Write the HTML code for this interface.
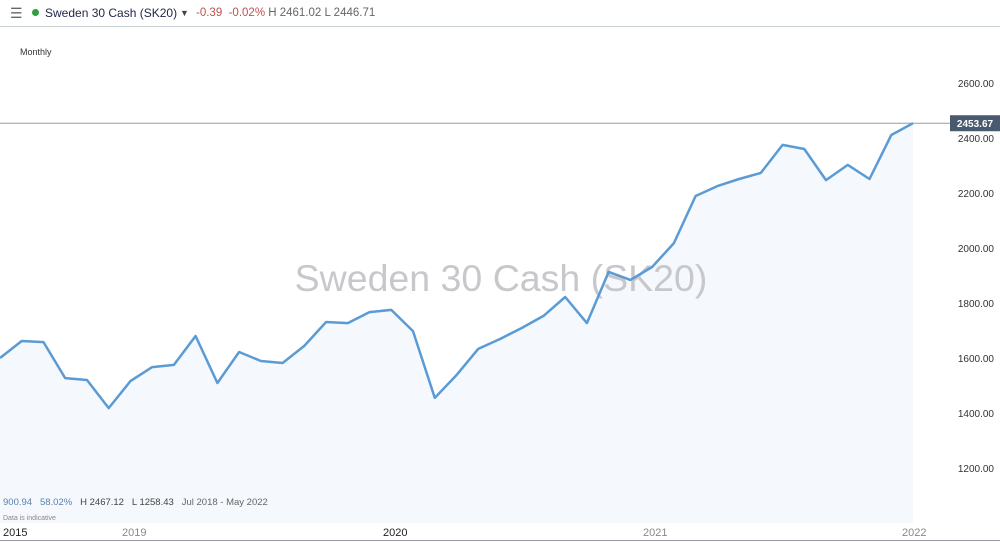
<!DOCTYPE html>
<html><head><meta charset="utf-8"><style>
body{margin:0;width:1000px;height:542px;overflow:hidden;background:#fff;font-family:"Liberation Sans",sans-serif;position:relative}
.top{position:absolute;left:0;top:0;width:1000px;height:26px;border-bottom:1px solid #c9d3d3;font-size:11px;line-height:26px}
</style></head><body>
<div class="top">
<span style="position:absolute;left:10px;top:0;color:#666;font-size:14px">☰</span>
<span style="position:absolute;left:32px;top:9px;width:7px;height:7px;border-radius:50%;background:#2e9e3f"></span>
<span style="position:absolute;left:45px;color:#1e2548;font-size:12px">Sweden 30 Cash (SK20)</span>
<span style="position:absolute;left:180px;color:#444;font-size:9px">▼</span>
<span style="position:absolute;left:196px;color:#666;font-size:11.5px"><span style="color:#c0504d">-0.39 &nbsp;-0.02%</span> H 2461.02 L 2446.71</span>
</div>
<div style="position:absolute;left:20px;top:47px;font-size:9px;color:#333">Monthly</div>
<svg id="c" width="1000" height="542" style="position:absolute;left:0;top:0"></svg>
<script>
const values=[1600,1662,1658,1527,1520,1418,1516,1567,1575,1680,1509,1622,1589,1582,1644,1731,1727,1767,1775,1698,1455,1538,1633,1669,1709,1753,1822,1727,1913,1884,1931,2018,2189,2225,2251,2273,2375,2360,2247,2302,2251,2411,2453.67];
const yTicks=[1200,1400,1600,1800,2000,2200,2400,2600];
const years=[["2015",3,"#222"],["2019",122,"#888"],["2020",383,"#222"],["2021",643,"#888"],["2022",902,"#888"]];
const ns="http://www.w3.org/2000/svg",svg=document.getElementById('c');
const X=i=>i*913/(values.length-1);
const Y=v=>83+(2600-v)*0.275;
function mk(t,a){const e=document.createElementNS(ns,t);for(const k in a)e.setAttribute(k,a[k]);svg.appendChild(e);return e;}
let pts=values.map((v,i)=>X(i).toFixed(1)+","+Y(v).toFixed(1));
let area=mk('polygon',{points:"0,523 "+pts.join(" ")+" 913,523",fill:"#f5f8fc"});


let wm=mk('text',{x:501,y:291,"text-anchor":"middle","font-size":"37.5","fill":"#c8c8cc","font-family":"Liberation Sans, sans-serif"});
wm.textContent="Sweden 30 Cash (SK20)";


let lv=values[values.length-1];
let pl=mk('line',{x1:0,x2:950,y1:Y(lv),y2:Y(lv),stroke:"#8aa0b4","stroke-width":1});


let ln=mk('polyline',{points:pts.join(" "),fill:"none",stroke:"#5b9bd5","stroke-width":2.5,"stroke-linejoin":"round"});


yTicks.forEach(v=>{let t=mk('text',{x:994,y:Y(v)+4,"text-anchor":"end","font-size":"10","fill":"#333"});t.textContent=v.toFixed(2);

});
let bx=mk('rect',{x:950,y:Y(lv)-8,width:50,height:16,fill:"#4a5a6e"});


let bt=mk('text',{x:975,y:Y(lv)+4,"text-anchor":"middle","font-size":"10","font-weight":"bold","fill":"#fff"});bt.textContent=lv.toFixed(2);


let ax=mk('line',{x1:0,x2:1000,y1:540.5,y2:540.5,stroke:"#9a98a8","stroke-width":1});


years.forEach(y=>{let t=mk('text',{x:y[1],y:536,"font-size":"11","fill":y[2]});t.textContent=y[0];

});
let st=mk('text',{x:3,y:505,"font-size":"9.5","fill":"#444"});
st.innerHTML='<tspan fill="#5a7fb0">900.94 &#160; 58.02%</tspan> &#160; H 2467.12 &#160; L 1258.43 &#160; <tspan fill="#666">Jul 2018 - May 2022</tspan>';


let di=mk('text',{x:3,y:520,"font-size":"7","fill":"#888"});di.textContent="Data is indicative";


</script>
</body></html>
